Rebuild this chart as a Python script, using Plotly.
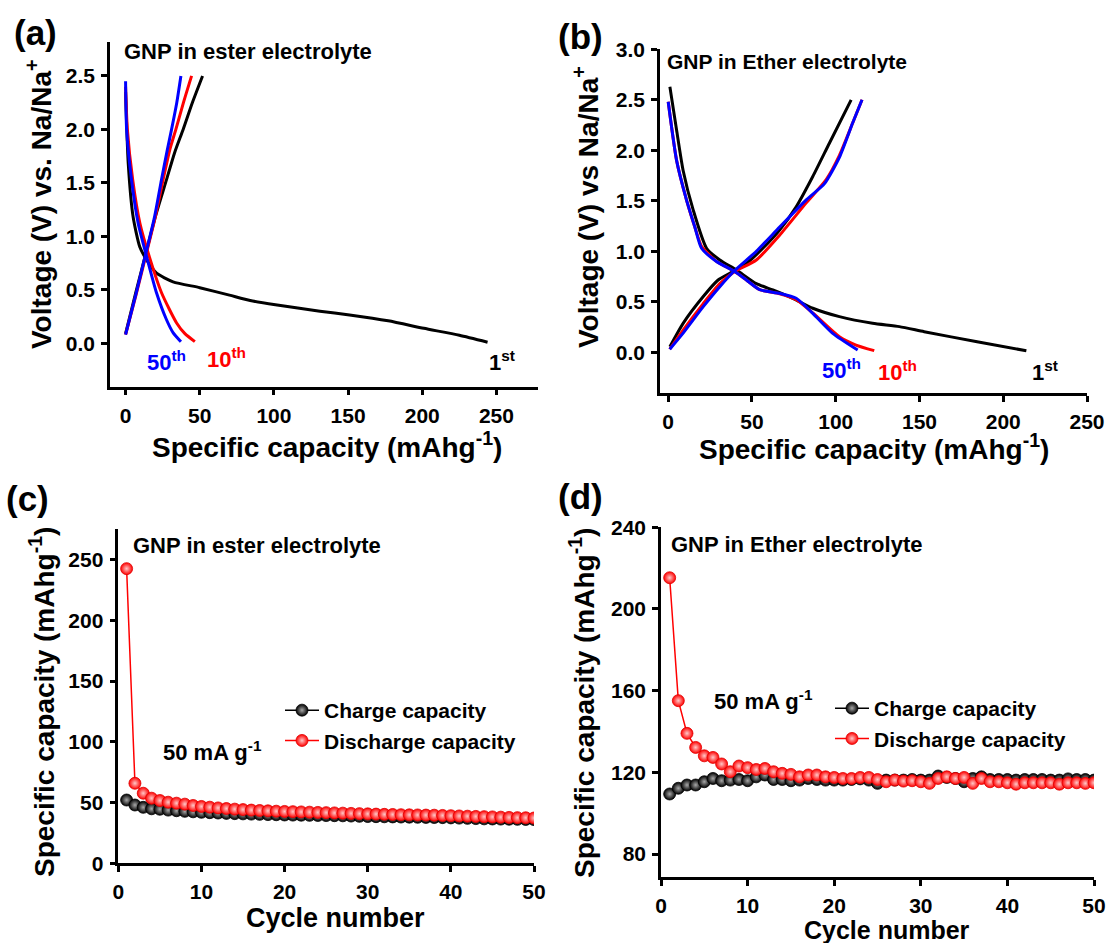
import plotly.graph_objects as go

W, H = 1108, 943

# ---------------- data ----------------
# (a) GNP in ester electrolyte: voltage profiles
a_1st_dis_cap = [0, 1.8, 5.1, 9.6, 14.2, 20.9, 32, 50, 70, 84, 101, 131, 151, 177, 201, 225, 244]
a_1st_dis_v = [2.35, 1.68, 1.18, 0.90, 0.78, 0.655, 0.575, 0.52, 0.45, 0.40, 0.36, 0.30, 0.265, 0.21, 0.14, 0.075, 0.01]
a_1st_chg_cap = [0, 7, 14.2, 20, 27.6, 33, 38.8, 45, 51.9]
a_1st_chg_v = [0.09, 0.48, 0.87, 1.18, 1.53, 1.78, 2.0, 2.25, 2.5]
a_10th_dis_cap = [0, 1.2, 4.8, 9.7, 16, 24.3, 34.4, 40, 46.7]
a_10th_dis_v = [2.4, 2.0, 1.53, 1.12, 0.81, 0.47, 0.19, 0.09, 0.015]
a_10th_chg_cap = [0, 7, 14, 20, 25.3, 30, 33.9, 39, 44.5]
a_10th_chg_v = [0.08, 0.45, 0.84, 1.18, 1.53, 1.82, 2.0, 2.25, 2.5]
a_50th_dis_cap = [0, 0.7, 4, 8.5, 14.2, 20.9, 27.6, 32, 37.3]
a_50th_dis_v = [2.45, 2.0, 1.53, 1.12, 0.81, 0.47, 0.22, 0.1, 0.015]
a_50th_chg_cap = [0, 7, 14, 19.5, 24.2, 28, 31, 34.5, 37.3]
a_50th_chg_v = [0.08, 0.46, 0.86, 1.18, 1.53, 1.8, 2.0, 2.25, 2.5]

# (b) GNP in Ether electrolyte: voltage profiles
b_1st_dis_cap = [1.0, 5, 8.9, 14.9, 22.9, 30.8, 40.7, 52.6, 62.5, 74.4, 86.3, 102.2, 122, 138, 152.8, 184.4, 213.8]
b_1st_dis_v = [2.63, 2.2, 1.80, 1.41, 1.03, 0.914, 0.815, 0.68, 0.617, 0.534, 0.436, 0.353, 0.287, 0.254, 0.204, 0.104, 0.015]
b_1st_chg_cap = [1.0, 8.9, 20.8, 29.8, 38.7, 46.7, 56.5, 66.5, 76.4, 86.3, 96.2, 109.2]
b_1st_chg_v = [0.055, 0.287, 0.55, 0.716, 0.80, 0.88, 1.03, 1.21, 1.44, 1.74, 2.07, 2.50]
b_10th_dis_cap = [0, 5, 10.9, 15.9, 19.9, 28.8, 39.7, 46.7, 54.6, 66.5, 76.4, 86.3, 102.2, 112.1, 123]
b_10th_dis_v = [2.48, 1.90, 1.51, 1.24, 1.05, 0.90, 0.80, 0.716, 0.62, 0.58, 0.52, 0.39, 0.154, 0.072, 0.016]
b_10th_chg_cap = [0.9, 8.9, 20.8, 30.8, 39.7, 52.6, 66.5, 82.4, 94.3, 102.2, 110.1, 115.7]
b_10th_chg_v = [0.03, 0.22, 0.48, 0.68, 0.80, 0.914, 1.16, 1.48, 1.71, 1.95, 2.27, 2.5]
b_50th_dis_cap = [0, 5, 10.9, 15.9, 19.9, 28.8, 39.7, 46.7, 54.6, 66.5, 76.4, 86.3, 98.2, 113.1]
b_50th_dis_v = [2.48, 1.90, 1.51, 1.24, 1.03, 0.90, 0.80, 0.716, 0.62, 0.584, 0.535, 0.386, 0.188, 0.023]
b_50th_chg_cap = [0.9, 8.9, 20.8, 30.8, 39.7, 52.6, 66.5, 82.4, 93.3, 102.2, 110.1, 115.7]
b_50th_chg_v = [0.03, 0.19, 0.45, 0.65, 0.81, 1.0, 1.24, 1.51, 1.67, 1.93, 2.27, 2.5]

# (c) cycling, ester electrolyte
cycles = list(range(1, 51))
c_charge = [52.1, 48.0, 46.1, 44.9, 44.5, 43.8, 43.3, 42.8, 42.4, 42.0, 41.7, 41.4, 41.1, 40.9, 40.7,
            40.5, 40.3, 40.1, 40.0, 39.8, 39.7, 39.6, 39.5, 39.4, 39.3, 39.2, 39.1, 38.9, 38.7, 38.5,
            38.4, 38.3, 38.2, 38.1, 38.0, 37.9, 37.8, 37.7, 37.6, 37.4, 37.2, 37.0, 36.8, 36.6, 36.5,
            36.4, 36.3, 36.2, 36.1, 36.0]
c_discharge = [242.6, 65.9, 57.7, 53.6, 51.7, 50.3, 49.5, 48.7, 47.6, 46.8, 46.2, 45.6, 45.1, 44.6, 44.2,
               43.8, 43.5, 43.2, 42.9, 42.7, 42.5, 42.3, 42.1, 41.9, 41.7, 41.5, 41.3, 41.1, 40.9, 40.7,
               40.5, 40.3, 40.2, 40.0, 39.9, 39.8, 39.7, 39.6, 39.4, 39.2, 39.0, 38.8, 38.6, 38.4, 38.2,
               38.0, 37.8, 37.6, 37.5, 37.3]

# (d) cycling, Ether electrolyte
d_charge = [109.4, 112.2, 113.8, 113.8, 115.4, 117.0, 115.9, 116.2, 116.5, 115.9, 117.8, 118.7, 116.5, 116.5, 115.9,
            116.2, 117.0, 116.5, 116.2, 116.2, 116.2, 116.5, 116.8, 116.2, 114.6, 116.2, 116.2, 116.2, 116.5, 116.2,
            116.2, 118.2, 117.5, 117.0, 115.4, 117.0, 117.8, 116.5, 116.5, 116.5, 116.2, 116.5, 116.5, 116.5, 116.2,
            116.2, 116.8, 116.5, 116.5, 116.2]
d_discharge = [215.3, 155.1, 139.1, 132.2, 128.1, 127.3, 124.1, 120.3, 123.1, 122.3, 121.4, 121.9, 120.3, 119.5, 119.0,
               117.8, 118.7, 118.7, 117.8, 117.5, 117.0, 117.0, 117.5, 117.5, 116.5, 115.4, 116.2, 115.7, 115.9, 115.4,
               114.6, 117.0, 117.8, 117.0, 117.5, 114.6, 117.0, 115.4, 115.4, 114.9, 114.2, 114.9, 114.9, 114.9, 114.9,
               114.2, 114.9, 114.9, 114.6, 114.9]

# ---------------- layout helpers ----------------
def px(x):
    return x / W

def py(y):
    return 1 - y / H

FONT = "Liberation Sans, Arial, sans-serif"
BLACK, RED, BLUE = "#000000", "#ff0000", "#0000ff"

fig = go.Figure()

def curve(xa, ya, x, y, color):
    fig.add_trace(go.Scatter(x=x, y=y, xaxis=xa, yaxis=ya, mode="lines",
                             line=dict(color=color, width=3, shape="spline", smoothing=0.6),
                             showlegend=False, hoverinfo="skip"))

# panel (a)
curve("x", "y", a_1st_dis_cap, a_1st_dis_v, BLACK)
curve("x", "y", a_1st_chg_cap, a_1st_chg_v, BLACK)
curve("x", "y", a_10th_dis_cap, a_10th_dis_v, RED)
curve("x", "y", a_10th_chg_cap, a_10th_chg_v, RED)
curve("x", "y", a_50th_dis_cap, a_50th_dis_v, BLUE)
curve("x", "y", a_50th_chg_cap, a_50th_chg_v, BLUE)
# panel (b)
curve("x2", "y2", b_1st_dis_cap, b_1st_dis_v, BLACK)
curve("x2", "y2", b_1st_chg_cap, b_1st_chg_v, BLACK)
curve("x2", "y2", b_10th_dis_cap, b_10th_dis_v, RED)
curve("x2", "y2", b_10th_chg_cap, b_10th_chg_v, RED)
curve("x2", "y2", b_50th_dis_cap, b_50th_dis_v, BLUE)
curve("x2", "y2", b_50th_chg_cap, b_50th_chg_v, BLUE)

def cyc(xa, ya, y, name, color, grad, edge, legend):
    fig.add_trace(go.Scatter(x=cycles, y=y, xaxis=xa, yaxis=ya, mode="lines+markers", name=name,
                             line=dict(color=color, width=1.5),
                             marker=dict(size=12, color=color, symbol="circle",
                                         gradient=dict(type="radial", color=grad),
                                         line=dict(color=edge, width=0.8)),
                             legend=legend, hoverinfo="skip"))

cyc("x3", "y3", c_charge, "Charge capacity", BLACK, "#a8a8a8", "#000000", "legend")
cyc("x3", "y3", c_discharge, "Discharge capacity", RED, "#ffc8c8", "#e00000", "legend")
cyc("x4", "y4", d_charge, "Charge capacity", BLACK, "#a8a8a8", "#000000", "legend2")
cyc("x4", "y4", d_discharge, "Discharge capacity", RED, "#ffc8c8", "#e00000", "legend2")

tickfont = dict(family=FONT, size=21, color="black", weight="bold")
axis_common = dict(showline=True, linecolor="black", linewidth=2.5, ticks="outside", ticklen=6,
                   tickwidth=2.5, tickcolor="black", showgrid=False, zeroline=False,
                   tickfont=tickfont, mirror=False, ticklabelstandoff=2, automargin=False)

legend_font = dict(family=FONT, size=21, color="black", weight="bold")

fig.update_layout(
    template="none",
    width=W, height=H, margin=dict(l=0, r=0, t=0, b=0, pad=0, autoexpand=False),
    paper_bgcolor="white", plot_bgcolor="white",
    font=dict(family=FONT, color="black", size=20),
    xaxis=dict(domain=[px(110), px(538)], range=[-10.5, 278], tickvals=[0, 50, 100, 150, 200, 250],
               anchor="y", **axis_common),
    yaxis=dict(domain=[py(386.7), py(41.7)], range=[-0.406, 2.82], tickvals=[0, 0.5, 1.0, 1.5, 2.0, 2.5],
               tickformat=".1f", anchor="x", **axis_common),
    xaxis2=dict(domain=[px(660), px(1087)], range=[-4.9, 250], tickvals=[0, 50, 100, 150, 200, 250],
                anchor="y2", **axis_common),
    yaxis2=dict(domain=[py(393.3), py(49.3)], range=[-0.406, 3.0], tickvals=[0, 0.5, 1.0, 1.5, 2.0, 2.5, 3.0],
                tickformat=".1f", anchor="x2", **axis_common),
    xaxis3=dict(domain=[px(118.3), px(534)], range=[0, 50], tickvals=[0, 10, 20, 30, 40, 50],
                anchor="y3", **axis_common),
    yaxis3=dict(domain=[py(863.3), py(529.3)], range=[0, 275], tickvals=[0, 50, 100, 150, 200, 250],
                anchor="x3", **axis_common),
    xaxis4=dict(domain=[px(661), px(1094)], range=[0, 50], tickvals=[0, 10, 20, 30, 40, 50],
                anchor="y4", **axis_common),
    yaxis4=dict(domain=[py(877.3), py(527.3)], range=[68.6, 240], tickvals=[80, 120, 160, 200, 240],
                anchor="x4", **axis_common),
    legend=dict(x=px(280), y=py(690), xanchor="left", yanchor="top", bgcolor="rgba(0,0,0,0)",
                font=legend_font, itemwidth=34, tracegroupgap=0),
    legend2=dict(x=px(830), y=py(688), xanchor="left", yanchor="top", bgcolor="rgba(0,0,0,0)",
                 font=legend_font, itemwidth=34, tracegroupgap=0),
    showlegend=True,
)

ann = []

def text(x, y, s, size, color="black", xanchor="left", yanchor="middle", angle=0):
    ann.append(dict(x=px(x), y=py(y), xref="paper", yref="paper", text=s, showarrow=False,
                    xanchor=xanchor, yanchor=yanchor, textangle=angle,
                    font=dict(family=FONT, size=size, color=color, weight="bold")))

# panel labels
text(35, 33, "(a)", 35, xanchor="center")
text(580, 37, "(b)", 35, xanchor="center")
text(28, 498, "(c)", 35, xanchor="center")
text(580, 496, "(d)", 35, xanchor="center")

# in-plot titles
text(122, 52, "GNP in ester electrolyte", 22)
text(665, 61, "GNP in Ether electrolyte", 21)
text(131, 545, "GNP in ester electrolyte", 22)
text(669, 544, "GNP in Ether electrolyte", 22)
text(161, 751, "50 mA g<sup>-1</sup>", 22)
text(712, 700, "50 mA g<sup>-1</sup>", 22)

# cycle labels
text(145, 361, "50<sup>th</sup>", 22, color=BLUE)
text(205, 358, "10<sup>th</sup>", 22, color=RED)
text(487, 361, "1<sup>st</sup>", 22)
text(820, 369, "50<sup>th</sup>", 22, color=BLUE)
text(876, 371, "10<sup>th</sup>", 22, color=RED)
text(1030, 371, "1<sup>st</sup>", 22)

# axis titles
text(327, 445, "Specific capacity (mAhg<sup>-1</sup>)", 28, xanchor="center")
text(874, 447, "Specific capacity (mAhg<sup>-1</sup>)", 28, xanchor="center")
text(335, 918, "Cycle number", 27, xanchor="center")
text(887, 930, "Cycle number", 25, xanchor="center")
text(39, 205, "Voltage (V) vs. Na/Na<sup>+</sup>", 28, xanchor="center", angle=-90)
text(586, 207, "Voltage (V) vs Na/Na<sup>+</sup>", 28, xanchor="center", angle=-90)
text(42, 702, "Specific capacity (mAhg<sup>-1</sup>)", 28, xanchor="center", angle=-90)
text(582, 703, "Specific capacity (mAhg<sup>-1</sup>)", 28, xanchor="center", angle=-90)

fig.update_layout(annotations=ann)
fig.write_html("out.html")
